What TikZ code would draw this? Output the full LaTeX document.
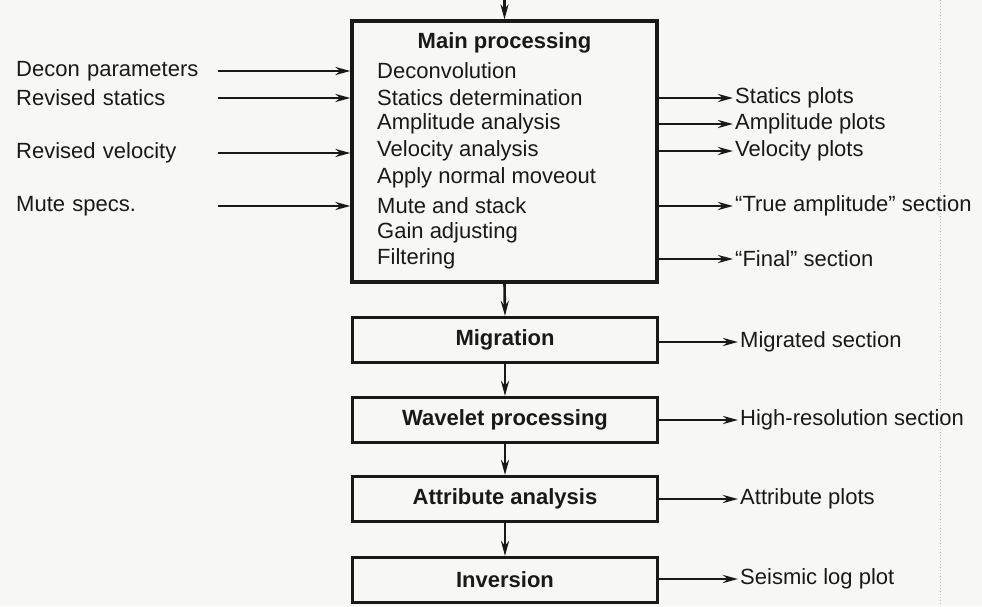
\documentclass[tikz,border=0pt]{standalone}
\usepackage{fontspec}
\setmainfont{Liberation Sans}
\usetikzlibrary{positioning}
\usetikzlibrary{arrows.meta,shapes}
\usetikzlibrary{calc}
\definecolor{paper}{RGB}{247,247,245}
\definecolor{ink}{RGB}{25,25,25}
\newcommand{\flowfont}{\fontsize{22}{26}\selectfont}
\tikzstyle{stage}=[draw=ink,line width=3.2pt,minimum width=305pt,minimum height=45pt,inner sep=0pt,font=\flowfont\bfseries]
\tikzstyle{task}=[anchor=west,inner sep=0pt]
\tikzstyle{inlabel}=[anchor=west,text width=200pt,align=left,inner sep=2pt]
\tikzstyle{outlabel}=[anchor=west,inner sep=2pt]
\tikzstyle{flow} = [draw=ink,line width=2.6pt,-{Stealth[length=15pt,width=8pt]}]

\begin{document}
\begin{tikzpicture}[x=1pt,y=-1pt,text=ink,font=\flowfont]
    % page and bounding box
    \fill[paper] (0,0) rectangle (982,606);
    \useasboundingbox (0,0) rectangle (982,606);
    \draw[gray!45,dotted,line width=1pt] (940,0) -- (940,606);

    % First the boxes of the flow
    \node[stage, minimum height=261pt] (main) at (504.5,151.5) {};
    \node[font=\flowfont\bfseries] (mtitle) at (504.5,43) {Main processing};
    \node[stage] (migr) at (505,340) {Migration};
    \node[stage] (wave) at (505,420) {Wavelet processing};
    \node[stage] (attr) at (505,499) {Attribute analysis};
    \node[stage] (inv) at (505,580) {Inversion};

    % steps inside the main box
    \foreach \pos/\name/\label in {{(377,71)/decon/Deconvolution}, {(377,98)/stat/Statics determination},
        {(377,124)/ampl/Amplitude analysis}, {(377,151)/velo/Velocity analysis},
        {(377,178)/nmo/Apply normal moveout}, {(377,206)/mstack/Mute and stack},
        {(377,233)/gain/Gain adjusting}, {(377,259)/filt/Filtering}}
        \node[task] (\name) at \pos {\label};

    % inputs on the left
    \foreach \pos/\name/\dest/\label in {{(14,71)/dparm/decon/Decon parameters}, {(14,98)/rstat/stat/Revised statics},
        {(14,153)/rvel/velo/Revised velocity}, {(14,206)/mspec/mstack/Mute specs.}}
    {
        \node[inlabel] (\name) at \pos {\label};
        \path[flow] (\name.east) -- (main.west |- \name);
    }

    % outputs on the right
    \foreach \pos/\name/\src/\label in {{(733,98)/splot/stat/Statics plots}, {(733,124)/aplot/ampl/Amplitude plots},
        {(733,151)/vplot/velo/Velocity plots}, {(733,206)/tsec/mstack/``True amplitude'' section},
        {(733,259)/fsec/filt/``Final'' section}}
    {
        \node[outlabel] (\name) at \pos {\label};
        \path[flow] (main.east |- \src) -- (\name.west);
    }
    \foreach \pos/\name/\src/\label in {{(738,342)/msec/migr/Migrated section}, {(738,420)/hsec/wave/High-resolution section},
        {(738,499)/atplot/attr/Attribute plots}, {(738,579)/slog/inv/Seismic log plot}}
    {
        \node[outlabel] (\name) at \pos {\label};
        \path[flow] (\src.east |- \name) -- (\name.west);
    }

    % Connect the boxes
    \coordinate (topin) at (504.5,-3);
    \path[flow] (topin) -- (main.north);
    \foreach \source/\dest in {main/migr, migr/wave, wave/attr, attr/inv}
        \path[flow] (\source.south) -- (\dest.north);
\end{tikzpicture}
\end{document}
